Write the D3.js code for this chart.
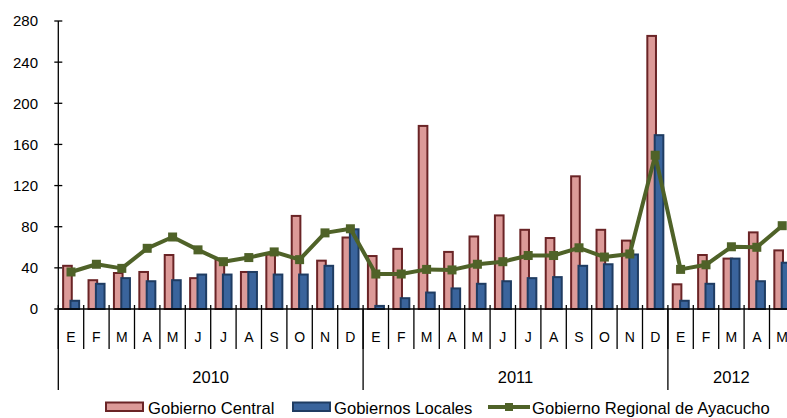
<!DOCTYPE html>
<html>
<head>
<meta charset="utf-8">
<script src="https://cdn.jsdelivr.net/npm/d3@7"></script>
<style>
  html, body { margin: 0; padding: 0; background: #fff; }
  svg { display: block; overflow: hidden; }
  text { font-family: "Liberation Sans", Arial, sans-serif; fill: #000; }
</style>
</head>
<body>
<svg id="chart" width="787" height="418"></svg>
<script>
const months = ["E","F","M","A","M","J","J","A","S","O","N","D",
                "E","F","M","A","M","J","J","A","S","O","N","D",
                "E","F","M","A","M"];
const years = ["2010","2011","2012"];
const monthsPerYear = [12, 12, 5];
const yTicks = [0, 40, 80, 120, 160, 200, 240, 280];

const gobiernoCentral = [42, 28, 35, 36, 52.5, 30, 48, 36, 53, 90.5, 47, 69.5,
                         51.5, 58.5, 178, 55.5, 70.5, 91, 77, 69, 129, 77, 66.5, 265.5,
                         24, 52.5, 49, 74.5, 57];
const gobiernosLocales = [8, 24.5, 30, 27, 28, 33.5, 33.5, 36, 33.5, 33.5, 42, 77.5,
                          3, 10.5, 16, 20, 24.5, 27, 30, 31, 42, 43.5, 53, 169,
                          8, 24.5, 49, 27, 45];
const gobiernoRegional = [36, 43.5, 39.5, 59, 70, 57.5, 46, 50, 55.5, 48, 74, 78,
                          34, 34, 38.5, 38, 43.5, 46, 52, 52, 59.5, 50.5, 53.5, 149.5,
                          38.5, 43, 60.5, 60, 81];

const seriesNames = ["Gobierno Central", "Gobiernos Locales", "Gobierno Regional de Ayacucho"];

const svg = d3.select("#chart");
const x0 = 58.3, bandW = 25.4;
const idx = d3.range(months.length);
const x = d3.scaleBand().domain(idx).range([x0, x0 + bandW * months.length]).padding(0);
const y = d3.scaleLinear().domain([0, 280]).range([309, 21]);
const bw = x.bandwidth();

const redFill = "#dc9a98", redStroke = "#6a2426";
const blueFill = "#3a649c", blueStroke = "#1f3c62";
const green = "#4f6228";

// Y axis
const yAxis = svg.append("g");
yAxis.append("line").attr("x1", x0).attr("x2", x0).attr("y1", y(280)).attr("y2", y(0))
  .attr("stroke", "#000").attr("stroke-width", 1.3);
yAxis.selectAll("line.tk").data(yTicks).enter().append("line").attr("class", "tk")
  .attr("x1", x0 - 4).attr("x2", x0 + 4).attr("y1", d => y(d)).attr("y2", d => y(d))
  .attr("stroke", "#000").attr("stroke-width", 1.3);
yAxis.selectAll("text").data(yTicks).enter().append("text")
  .attr("x", 38).attr("y", d => y(d)).attr("dy", "0.36em")
  .attr("text-anchor", "end").style("font-size", "15px").text(d => d);

// Bars
svg.append("g").selectAll("rect").data(gobiernoCentral).enter().append("rect")
  .attr("x", (d, i) => x(i) + 0.19 * bw)
  .attr("y", d => y(d))
  .attr("width", 0.38 * bw - 1)
  .attr("height", d => y(0) - y(d))
  .attr("fill", redFill).attr("stroke", redStroke).attr("stroke-width", 2);

svg.append("g").selectAll("rect").data(gobiernosLocales).enter().append("rect")
  .attr("x", (d, i) => x(i) + 0.48 * bw)
  .attr("y", d => y(d))
  .attr("width", 0.38 * bw - 1)
  .attr("height", d => y(0) - y(d))
  .attr("fill", blueFill).attr("stroke", blueStroke).attr("stroke-width", 2);

// X axis
const xAxis = svg.append("g");
xAxis.append("line").attr("x1", x0).attr("x2", 787).attr("y1", y(0)).attr("y2", y(0))
  .attr("stroke", "#000").attr("stroke-width", 1.3);
xAxis.selectAll("line.mt").data(d3.range(months.length + 1)).enter().append("line").attr("class", "mt")
  .attr("x1", i => x0 + i * bw).attr("x2", i => x0 + i * bw)
  .attr("y1", y(0) - 4).attr("y2", 349)
  .attr("stroke", "#000").attr("stroke-width", 1.3);
xAxis.selectAll("text.m").data(months).enter().append("text").attr("class", "m")
  .attr("x", (d, i) => x(i) + bw / 2).attr("y", 342)
  .attr("text-anchor", "middle").style("font-size", "14px").text(d => d);

let start = 0;
const yearStarts = monthsPerYear.map(n => { const s = start; start += n; return s; });
yearStarts.push(start);
xAxis.selectAll("line.yd").data(yearStarts).enter().append("line").attr("class", "yd")
  .attr("x1", s => x0 + s * bw).attr("x2", s => x0 + s * bw)
  .attr("y1", y(0)).attr("y2", 390)
  .attr("stroke", "#000").attr("stroke-width", 1.3);
xAxis.selectAll("text.yr").data(years).enter().append("text").attr("class", "yr")
  .attr("x", (d, i) => {
    const a = x0 + yearStarts[i] * bw;
    const b = x0 + yearStarts[i + 1] * bw;
    return i === years.length - 1 ? (a + Math.min(b, 787 + 26)) / 2 : (a + b) / 2;
  })
  .attr("y", 383).attr("text-anchor", "middle").style("font-size", "16.5px").text(d => d);

// Line
const line = d3.line().x((d, i) => x(i) + bw / 2).y(d => y(d));
svg.append("path").datum(gobiernoRegional).attr("d", line)
  .attr("fill", "none").attr("stroke", green).attr("stroke-width", 4).attr("stroke-linejoin", "round");
svg.append("g").selectAll("rect").data(gobiernoRegional).enter().append("rect")
  .attr("x", (d, i) => x(i) + bw / 2 - 4.5).attr("y", d => y(d) - 4.5)
  .attr("width", 9).attr("height", 9).attr("fill", green);

// Legend
const leg = svg.append("g");
leg.append("rect").attr("x", 106).attr("y", 402.5).attr("width", 37).attr("height", 8.5)
  .attr("fill", redFill).attr("stroke", redStroke).attr("stroke-width", 2);
leg.append("text").attr("x", 148).attr("y", 414).style("font-size", "16.6px").text(seriesNames[0]);
leg.append("rect").attr("x", 293).attr("y", 402.5).attr("width", 37).attr("height", 8.5)
  .attr("fill", blueFill).attr("stroke", blueStroke).attr("stroke-width", 2);
leg.append("text").attr("x", 334).attr("y", 414).style("font-size", "16.6px").text(seriesNames[1]);
leg.append("line").attr("x1", 488).attr("x2", 530).attr("y1", 407).attr("y2", 407)
  .attr("stroke", green).attr("stroke-width", 4);
leg.append("rect").attr("x", 505).attr("y", 403).attr("width", 8).attr("height", 8).attr("fill", green);
leg.append("text").attr("x", 532).attr("y", 414).style("font-size", "16.6px").text(seriesNames[2]);
</script>
</body>
</html>
